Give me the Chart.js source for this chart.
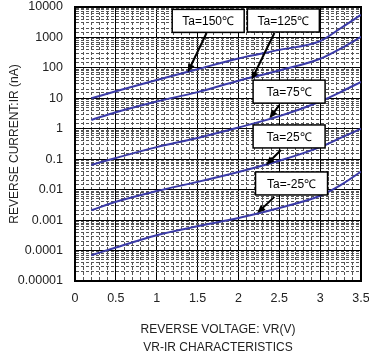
<!DOCTYPE html>
<html>
<head>
<meta charset="utf-8">
<script src="https://cdn.jsdelivr.net/npm/chart.js@4.4.0/dist/chart.umd.min.js"></script>
<style>
    body { margin: 0; background: #fff; }
    #wrap { width: 369px; height: 363px; }
</style>
</head>
<body>
<div id="wrap"><canvas id="vrChart" width="369" height="363"></canvas></div>
<script>
// reverse voltage (V)
const voltage = [0.2, 0.5, 1.0, 1.5, 2.0, 2.5, 3.0, 3.25, 3.5];

// reverse current (nA) for each ambient temperature
const ir150 = [10, 17, 40, 91, 204, 390, 760, 2000, 5500];
const ir125 = [1.95, 3.5, 7.9, 16, 38, 82, 200, 430, 1050];
const ir75 = [0.065, 0.11, 0.25, 0.5, 1.1, 2.6, 7.9, 16, 35];
const ir25 = [0.0021, 0.004, 0.009, 0.018, 0.038, 0.089, 0.25, 0.5, 1.0];
const irM25 = [0.00007, 0.000126, 0.00032, 0.00063, 0.00117, 0.0025, 0.0063, 0.014, 0.039];

const seriesNames = ['Ta=150℃', 'Ta=125℃', 'Ta=75℃', 'Ta=25℃', 'Ta=-25℃'];

// tick labels
const xTickLabels = ['0', '0.5', '1', '1.5', '2', '2.5', '3', '3.5'];
const yTickLabels = ['0.00001', '0.0001', '0.001', '0.01', '0.1', '1', '10', '100', '1000', '10000'];

// callout boxes: box centre, arrow tail, arrow tip (data units)
const boxX = [1.63, 2.55, 2.62, 2.62, 2.65];
const boxY = [3500, 3600, 16.6, 0.56, 0.016];
const tailX = [1.61, 2.44, 2.5, 2.52, 2.44];
const tailY = [1400, 1400, 6, 0.2, 0.0058];
const tipX = [1.38, 2.16, 2.38, 2.34, 2.23];
const tipY = [72, 40, 2.2, 0.065, 0.0017];

const lineColor = '#3b3ba8';
const fontFamily = '"Liberation Sans", Arial, sans-serif';

function isDecade(v) {
    let l = Math.log10(v);
    return Math.abs(l - Math.round(l)) < 1e-6;
}

function isHalf(v) {
    return Math.abs(v * 2 - Math.round(v * 2)) < 1e-6;
}

// no extra room for overflowing end labels
function noOverflow(scale) {
    scale.paddingTop = 0;
    scale.paddingBottom = 0;
    scale.paddingLeft = 0;
    scale.paddingRight = 0;
}

// frame round the plot area
const framePlugin = {
    id: 'frame',
    beforeDatasetsDraw(chart) {
        const { ctx, chartArea } = chart;
        ctx.save();
        ctx.strokeStyle = '#000';
        ctx.lineWidth = 2;
        ctx.strokeRect(chartArea.left, chartArea.top, chartArea.right - chartArea.left, chartArea.bottom - chartArea.top);
        ctx.restore();
    }
};

// Ta labels with arrows
const calloutPlugin = {
    id: 'callouts',
    afterDatasetsDraw(chart) {
        const { ctx } = chart;
        const xs = chart.scales.x;
        const ys = chart.scales.y;
        ctx.save();
        seriesNames.forEach((name, i) => {
            let x0 = xs.getPixelForValue(tailX[i]);
            let y0 = ys.getPixelForValue(tailY[i]);
            let x1 = xs.getPixelForValue(tipX[i]);
            let y1 = ys.getPixelForValue(tipY[i]);
            let ang = Math.atan2(y1 - y0, x1 - x0);
            let head = 9;

            ctx.strokeStyle = '#000';
            ctx.fillStyle = '#000';
            ctx.lineWidth = 2;
            ctx.beginPath();
            ctx.moveTo(x0, y0);
            ctx.lineTo(x1 - Math.cos(ang) * head * 0.8, y1 - Math.sin(ang) * head * 0.8);
            ctx.stroke();
            ctx.beginPath();
            ctx.moveTo(x1, y1);
            ctx.lineTo(x1 - head * Math.cos(ang - 0.4), y1 - head * Math.sin(ang - 0.4));
            ctx.lineTo(x1 - head * Math.cos(ang + 0.4), y1 - head * Math.sin(ang + 0.4));
            ctx.closePath();
            ctx.fill();

            let bx = xs.getPixelForValue(boxX[i]);
            let by = ys.getPixelForValue(boxY[i]);
            let w = 72, h = 23;
            ctx.fillStyle = '#fff';
            ctx.fillRect(bx - w / 2, by - h / 2, w, h);
            ctx.lineWidth = 1.5;
            ctx.strokeRect(bx - w / 2, by - h / 2, w, h);
            ctx.fillStyle = '#000';
            ctx.font = '12px ' + fontFamily;
            ctx.textAlign = 'center';
            ctx.textBaseline = 'middle';
            ctx.fillText(name, bx, by + 1);
        });
        ctx.restore();
    }
};

const allSeries = [ir150, ir125, ir75, ir25, irM25];

const ctx = document.getElementById('vrChart').getContext('2d');
const vrChart = new Chart(ctx, {
    type: 'line',
    data: {
        datasets: allSeries.map((s, i) => ({
            label: seriesNames[i],
            data: voltage.map((v, j) => ({ x: v, y: s[j] })),
            borderColor: lineColor,
            borderWidth: 2,
            pointRadius: 0,
            fill: false,
            cubicInterpolationMode: 'monotone'
        }))
    },
    options: {
        responsive: false,
        devicePixelRatio: 1,
        animation: false,
        layout: { padding: { top: 7, right: 8, left: 0, bottom: 0 } },
        plugins: {
            legend: { display: false },
            tooltip: { enabled: false }
        },
        scales: {
            x: {
                type: 'linear',
                min: 0,
                max: 3.5,
                afterFit: scale => { scale.height = 82; noOverflow(scale); },
                ticks: {
                    stepSize: 0.1,
                    autoSkip: false,
                    maxRotation: 0,
                    padding: 10,
                    color: '#222',
                    font: { family: fontFamily, size: 12.5 },
                    callback: v => isHalf(v) ? xTickLabels[Math.round(v * 2)] : ''
                },
                grid: {
                    drawTicks: false,
                    color: c => isHalf(c.tick.value) ? '#000' : '#555',
                    lineWidth: 1
                },
                border: {
                    color: '#000',
                    width: 2,
                    dash: c => (c.tick && isHalf(c.tick.value)) ? [] : [3, 2]
                },
                title: {
                    display: true,
                    text: ['REVERSE VOLTAGE: VR(V)', 'VR-IR CHARACTERISTICS'],
                    color: '#222',
                    font: { family: fontFamily, size: 12, lineHeight: 18 / 12 },
                    padding: { top: 0, bottom: 6 }
                }
            },
            y: {
                type: 'logarithmic',
                min: 0.00001,
                max: 10000,
                afterFit: scale => { scale.width = 75; noOverflow(scale); },
                ticks: {
                    autoSkip: false,
                    padding: 12,
                    color: '#222',
                    font: { family: fontFamily, size: 12.5 },
                    callback: v => isDecade(v) ? yTickLabels[Math.round(Math.log10(v)) + 5] : ''
                },
                grid: {
                    drawTicks: false,
                    color: c => isDecade(c.tick.value) ? '#000' : '#555',
                    lineWidth: 1
                },
                border: {
                    color: '#000',
                    width: 2,
                    dash: c => (c.tick && isDecade(c.tick.value)) ? [] : [3, 2]
                },
                title: {
                    display: true,
                    text: 'REVERSE CURRENT:IR (nA)',
                    color: '#222',
                    font: { family: fontFamily, size: 12 },
                    padding: { top: 7, bottom: 0 }
                }
            }
        }
    },
    plugins: [framePlugin, calloutPlugin]
});
</script>
</body>
</html>
